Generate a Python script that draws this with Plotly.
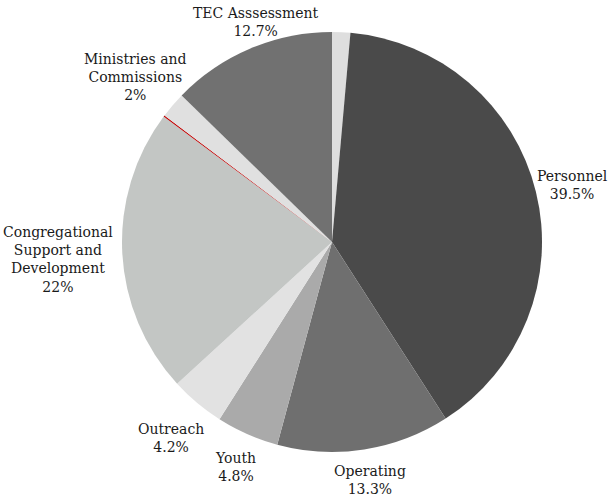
import plotly.graph_objects as go

# Budget shares, clockwise from 12 o'clock
categories = ["Other", "Personnel", "Operating", "Youth", "Outreach",
              "Congregational\nSupport and\nDevelopment", "Reserve",
              "Ministries and\nCommissions", "TEC Asssessment"]
shares = [1.4, 39.5, 13.3, 4.8, 4.2, 22, 0.1, 2, 12.7]
show_label = [False, True, True, True, True, True, False, True, True]
colors = ["#dedede", "#4a4a4a", "#6f6f6f", "#aaaaaa", "#e2e2e2",
          "#c3c6c4", "#c00000", "#e0e0e0", "#717171"]

# label anchor points (pixels from top-left) for the labelled slices
label_px = {
    "Personnel": (572, 185),
    "Operating": (370, 480),
    "Youth": (235, 467),
    "Outreach": (171, 438),
    "Congregational\nSupport and\nDevelopment": (58, 259),
    "Ministries and\nCommissions": (135, 77),
    "TEC Asssessment": (256, 22),
}

W, H = 613, 499
cx, cy, r = 332, 242, 210

fig = go.Figure(go.Pie(
    labels=[c.replace("\n", " ") for c in categories],
    values=shares,
    sort=False,
    direction="clockwise",
    rotation=0,
    marker=dict(colors=colors, line=dict(width=0)),
    textinfo="none",
    hoverinfo="label+percent",
    domain=dict(x=[(cx - r) / W, (cx + r) / W],
                y=[1 - (cy + r) / H, 1 - (cy - r) / H]),
    showlegend=False,
))

for name, val, show in zip(categories, shares, show_label):
    if not show:
        continue
    px, py = label_px[name]
    text = name.replace("\n", "<br>") + f"<br>{val:g}%"
    fig.add_annotation(
        x=px / W, y=1 - py / H, xref="paper", yref="paper",
        text=text, showarrow=False, align="center",
        xanchor="center", yanchor="middle",
        font=dict(family="DejaVu Serif", size=14, color="#1a1a1a"),
    )

fig.update_layout(
    width=W, height=H,
    margin=dict(l=0, r=0, t=0, b=0),
    paper_bgcolor="white", plot_bgcolor="white",
)

fig.write_html("out.html")
